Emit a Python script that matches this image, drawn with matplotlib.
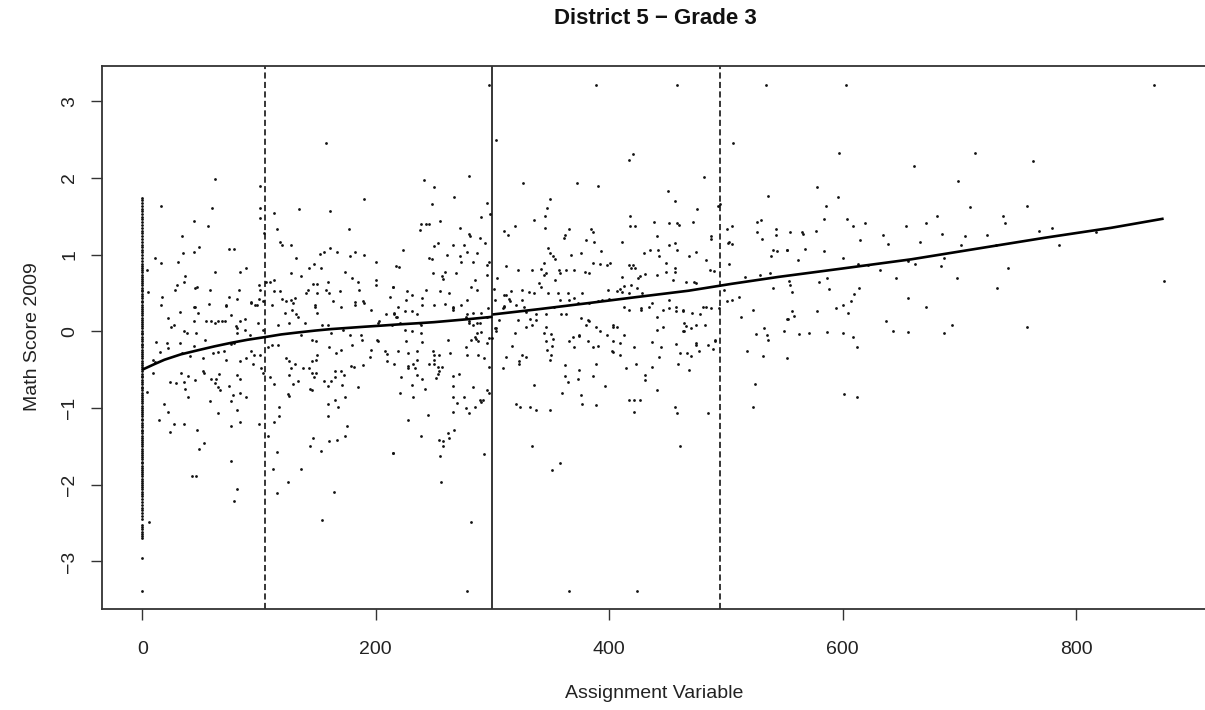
import matplotlib
matplotlib.use("Agg")
import matplotlib.pyplot as plt

plt.rcParams['font.family'] = ['Liberation Sans', 'DejaVu Sans']

# ---------------- data ----------------
# points sitting on the assignment value 0
col0_y = [1.74, 1.71, 1.67, 1.64, 1.60, 1.57, 1.53, 1.49, 1.46, 1.42, 1.39, 1.35,
          1.31, 1.28, 1.24, 1.20, 1.17, 1.13, 1.10, 1.06, 1.03, 0.99, 0.96, 0.92,
          0.88, 0.85, 0.82, 0.80, 0.77, 0.74, 0.71, 0.68, 0.66, 0.63, 0.60, 0.57,
          0.54, 0.52, 0.49, 0.46, 0.43, 0.40, 0.38, 0.35, 0.32, 0.29, 0.26, 0.24,
          0.21, 0.18, 0.15, 0.12, 0.10, 0.07, 0.04, 0.01, -0.02, -0.04, -0.07,
          -0.10, -0.13, -0.16, -0.18, -0.21, -0.24, -0.27, -0.30, -0.32, -0.35,
          -0.38, -0.41, -0.44, -0.46, -0.49, -0.52, -0.55, -0.58, -0.60, -0.63,
          -0.66, -0.69, -0.72, -0.74, -0.77, -0.80, -0.83, -0.86, -0.88, -0.91,
          -0.94, -0.97, -1.00, -1.02, -1.05, -1.08, -1.11, -1.14, -1.16, -1.19,
          -1.22, -1.25, -1.28, -1.30, -1.33, -1.36, -1.39, -1.42, -1.44, -1.47,
          -1.50, -1.53, -1.56, -1.58, -1.61, -1.64, -1.67, -1.70, -1.72, -1.75,
          -1.78, -1.81, -1.84, -1.86, -1.89, -1.92, -1.95, -1.98, -2.00, -2.03,
          -2.06, -2.09, -2.12, -2.15, -2.19, -2.23, -2.26, -2.30, -2.33, -2.37,
          -2.41, -2.44, -2.52, -2.55, -2.58, -2.61, -2.64, -2.67, -2.70, -2.95,
          -3.38]

# upper-left block (x 0-220, y above ~0.3)
xA = [4, 4.5, 11, 16, 16, 17, 28, 30, 31, 34, 35, 36, 37, 44, 44, 45, 47, 45, 49, 56,
      58, 60, 62, 62, 74, 79, 74, 81, 83, 84, 89, 72, 93, 97, 100, 101, 100, 101, 101, 101,
      104, 106, 109, 113, 113, 115, 113, 118, 118, 120, 127, 127, 120, 123, 127, 129, 131, 132, 134, 136,
      140, 142, 143, 146, 147, 148, 150, 150, 152, 153, 156, 157, 157, 159, 160, 161, 161, 163, 167, 169,
      170, 174, 177, 178, 180, 182, 185, 186, 182, 189, 190, 190, 200, 200, 200, 212, 215, 217]
yA = [0.80, 0.51, 0.96, 1.64, 0.89, 0.45, 0.54, 0.61, 0.90, 1.24, 1.02, 0.64, 0.72, 1.03, 1.44, 0.57, 0.58, 0.32, 1.10, 1.38,
      0.54, 1.61, 1.99, 0.77, 1.08, 1.08, 0.45, 0.42, 0.54, 0.78, 0.83, 0.33, 0.38, 0.35, 0.42, 0.54, 0.61, 1.90, 1.61, 1.48,
      1.28, 0.65, 0.65, 0.67, 1.54, 1.33, 0.52, 0.52, 1.16, 1.13, 1.13, 0.76, 0.42, 0.40, 0.41, 0.37, 0.43, 0.96, 1.59, 0.72,
      0.50, 0.54, 0.82, 0.62, 0.88, 0.35, 0.62, 0.50, 1.01, 0.82, 1.03, 2.46, 0.54, 0.64, 0.50, 1.57, 1.09, 0.40, 1.04, 0.52,
      0.32, 0.77, 1.33, 0.98, 0.69, 1.04, 0.64, 0.54, 0.38, 0.39, 1.72, 1.00, 0.90, 0.67, 0.61, 0.45, 0.58, 0.85]

# lower-left block (x 0-105)
xB = [16, 32, 22, 27, 25, 44, 48, 57, 44, 55, 59, 62, 65, 72, 68, 71, 76, 80, 81, 84,
      88, 81, 93, 98, 103, 99, 103, 92, 88, 79, 76, 12, 21, 22, 32, 36, 38, 46, 54, 44,
      15, 9, 11, 9, 34, 41, 52, 61, 65, 70, 72, 84, 89, 93, 96, 95, 101, 102, 103, 33,
      39, 52, 53, 66, 59, 63, 62, 81, 84, 24, 29, 36, 45, 37, 39, 65, 67, 74, 78, 84,
      89, 76, 58, 4, 19, 22, 14, 27, 24, 36, 47, 53, 49, 65, 76, 81, 84, 100, 43, 46,
      76, 81, 79, 6]
yB = [0.34, 0.25, 0.17, 0.08, 0.06, 0.32, 0.24, 0.36, 0.14, 0.14, 0.13, 0.11, 0.13, 0.34, 0.14, 0.14, 0.21, 0.07, 0.04, 0.13,
      0.16, -0.02, 0.37, 0.35, 0.39, 0.11, 0.02, -0.05, 0.02, -0.15, -0.17, -0.14, -0.15, -0.22, -0.15, 0.01, -0.02, -0.02, -0.11, -0.19,
      -0.27, -0.37, -0.40, -0.54, -0.28, -0.32, -0.35, -0.28, -0.27, -0.26, -0.37, -0.39, -0.35, -0.26, -0.31, -0.42, -0.31, -0.48, -0.54, -0.54,
      -0.58, -0.52, -0.54, -0.55, -0.62, -0.62, -0.67, -0.57, -0.62, -0.66, -0.67, -0.66, -0.63, -0.75, -0.86, -0.73, -0.77, -0.71, -0.83, -0.80,
      -0.86, -0.91, -0.91, -0.79, -0.95, -1.05, -1.16, -1.21, -1.31, -1.21, -1.28, -1.46, -1.54, -1.07, -1.23, -1.02, -1.18, -1.21, -1.88, -1.88,
      -1.69, -2.05, -2.21, -2.49]

# middle-left block (x 105-217)
xC = [108, 111, 109, 113, 116, 117, 117, 113, 108, 115, 112, 115, 125, 136, 123, 126, 131, 127, 126, 129,
      133, 125, 126, 138, 143, 145, 149, 147, 144, 145, 145, 149, 150, 156, 159, 162, 165, 165, 170, 173,
      171, 159, 165, 168, 174, 159, 175, 174, 167, 160, 144, 146, 153, 164, 154, 185, 189, 179, 181, 195,
      196, 208, 210, 210, 201, 202, 215, 209, 216, 111, 116, 122, 126, 128, 132, 133, 136, 145, 149, 148,
      150, 154, 159, 160, 162, 166, 170, 172, 178, 180, 187, 188, 182, 190, 196, 202, 203, 139]
yC = [-0.20, -0.18, -0.59, -0.68, -0.18, -0.98, -1.10, -1.18, -1.37, -1.57, -1.79, -2.11, -1.97, -1.79, -0.35, -0.39, -0.42, -0.48, -0.57, -0.68,
      -0.65, -0.82, -0.84, -0.48, -0.48, -0.54, -0.54, -0.60, -0.75, -0.77, -0.39, -0.37, -0.31, -0.65, -0.71, -0.65, -0.60, -0.52, -0.52, -0.57,
      -0.70, -0.95, -0.89, -0.98, -0.86, -1.10, -1.23, -1.37, -1.41, -1.43, -1.50, -1.39, -1.56, -2.10, -2.46, -0.73, -0.44, -0.45, -0.46, -0.34,
      -0.24, -0.25, -0.30, -0.39, -0.11, -0.12, -1.59, 0.22, 0.22, 0.35, 0.08, 0.24, 0.11, 0.28, 0.22, 0.19, -0.05, -0.11, -0.13, 0.32,
      0.24, 0.08, 0.08, -0.20, -0.02, -0.28, -0.24, 0.02, -0.05, -0.18, -0.05, -0.11, 0.35, 0.37, 0.28, 0.11, 0.13, 0.11]

# upper-middle block (x 212-555)
xD = [297, 303, 389, 458, 534, 417, 420, 506, 241, 250, 248, 280, 267, 295, 298, 326, 372, 390, 349, 347,
      345, 345, 336, 319, 310, 313, 348, 352, 450, 456, 481, 475, 493, 495, 536, 418, 418, 422, 438, 451,
      458, 460, 472, 501, 505, 527, 530, 543, 543, 527, 531, 503, 505, 502, 503, 487, 487, 483, 486, 490,
      540, 544, 539, 538, 552, 516, 529, 540, 498, 505, 511, 523, 513, 533, 535, 384, 386, 380, 387, 366,
      362, 361, 393, 411, 367, 376, 386, 392, 398, 401, 417, 420, 430, 435, 442, 443, 456, 458, 451, 441,
      449, 456, 468, 474, 441, 449, 455, 456, 466, 473, 474, 431, 426, 425, 419, 422, 411, 409, 413, 419,
      407, 411, 417, 424, 428, 383, 379, 370, 363, 358, 346, 344, 342, 334, 322, 312, 304, 301, 302, 302,
      306, 310, 312, 314, 310, 309, 316, 320, 325, 325, 331, 329, 336, 340, 342, 344, 349, 354, 354, 357,
      348, 356, 358, 365, 366, 370, 373, 377, 383, 390, 394, 399, 400, 332, 337, 346, 329, 334, 359, 363,
      376, 382, 389, 374, 413, 417, 427, 434, 441, 446, 451, 451, 457, 463, 464, 471, 480, 483, 478, 487,
      494, 470, 403, 413, 446, 501, 215, 217, 219, 223, 220, 227, 231, 226, 231, 235, 238, 239, 243, 246,
      255, 246, 248, 250, 253, 249, 257, 258, 259, 261, 266, 269, 272, 272, 273, 276, 278, 280, 281, 283,
      285, 287, 289, 290, 294, 295, 297, 295, 282, 287, 278, 266, 266, 263, 255, 243, 240, 238, 239, 280,
      287, 290, 296, 285, 287, 214, 277]
yD = [3.21, 2.49, 3.21, 3.21, 3.21, 2.24, 2.31, 2.45, 1.98, 1.88, 1.66, 2.03, 1.75, 1.67, 1.53, 1.93, 1.93, 1.89, 1.73, 1.61,
      1.50, 1.35, 1.45, 1.38, 1.31, 1.25, 1.09, 0.98, 1.83, 1.70, 2.01, 1.59, 1.63, 1.66, 1.77, 1.50, 1.38, 1.38, 1.43, 1.41,
      1.41, 1.39, 1.43, 1.34, 1.38, 1.43, 1.45, 1.33, 1.26, 1.30, 1.21, 1.17, 1.14, 1.15, 0.88, 1.24, 1.21, 0.93, 0.80, 0.79,
      1.06, 1.05, 0.98, 0.76, 1.06, 0.71, 0.74, 0.56, 0.54, 0.41, 0.45, 0.28, 0.19, 0.04, -0.05, 1.33, 1.30, 1.19, 1.17, 1.33,
      1.25, 1.22, 1.05, 1.17, 1.00, 1.02, 0.89, 0.88, 0.87, 0.89, 0.86, 0.86, 1.02, 1.06, 1.06, 0.98, 1.15, 1.06, 1.13, 1.24,
      0.89, 0.83, 0.98, 1.03, 0.74, 0.77, 0.67, 0.77, 0.64, 0.65, 0.63, 0.75, 0.72, 0.69, 0.83, 0.82, 0.71, 0.55, 0.59, 0.61,
      0.52, 0.51, 0.50, 0.56, 0.50, 0.76, 0.78, 0.80, 0.80, 0.76, 0.76, 0.74, 0.81, 0.80, 0.80, 0.85, 0.70, 0.55, 0.41, 0.04,
      0.15, 0.48, 0.48, 0.42, 0.32, 0.30, 0.53, 0.35, 0.54, 0.41, 0.51, 0.25, 0.50, 0.63, 0.58, 0.89, 1.02, 0.94, 0.67, 0.80,
      0.50, 0.50, 0.41, 0.50, 0.41, 0.43, 0.37, 0.50, 0.37, 0.40, 0.41, 0.54, 0.42, 0.16, 0.15, 0.06, 0.06, 0.08, 0.22, 0.22,
      0.17, 0.15, 0.06, -0.06, 0.32, 0.28, 0.30, 0.32, 0.19, 0.28, 0.30, 0.41, 0.32, 0.28, 0.11, 0.24, 0.32, 0.32, 0.22, 0.30,
      0.30, 0.04, 0.06, -0.05, 0.06, 0.39, 0.58, 0.19, 0.32, 1.06, 0.84, 0.53, 0.48, 0.41, 0.26, 0.22, 1.32, 1.40, 1.40, 1.40,
      1.44, 0.96, 0.94, 1.11, 1.15, 0.76, 0.72, 0.68, 0.78, 1.00, 1.12, 0.76, 1.35, 0.98, 0.91, 1.12, 1.04, 1.27, 1.24, 0.90,
      0.67, 1.02, 1.22, 1.49, 1.15, 0.87, 0.90, 0.74, 0.58, 0.54, 0.41, 0.32, 0.28, 0.50, 0.52, 0.54, 0.43, 0.11, 0.08, 0.13,
      0.11, 0.24, 0.30, -0.07, -0.02, 0.08, 0.19]

# lower-middle block (x 212-555)
xE = [216, 218, 225, 240, 250, 259, 266, 273, 278, 280, 283, 289, 295, 221, 225, 231, 239, 226, 219, 228,
      235, 235, 240, 249, 250, 254, 250, 262, 264, 216, 228, 232, 234, 235, 222, 228, 246, 250, 253, 257,
      254, 253, 252, 240, 231, 221, 232, 242, 266, 271, 266, 266, 270, 266, 276, 277, 280, 285, 283, 289,
      290, 292, 295, 297, 297, 288, 293, 277, 278, 282, 286, 288, 290, 283, 295, 297, 228, 239, 245, 254,
      258, 262, 263, 267, 258, 255, 215, 256, 293, 282, 278, 300, 303, 303, 310, 315, 319, 317, 312, 309,
      323, 323, 325, 329, 322, 327, 337, 344, 350, 346, 352, 351, 347, 350, 349, 346, 353, 366, 369, 370,
      374, 380, 383, 382, 386, 390, 392, 398, 403, 407, 403, 409, 403, 409, 421, 427, 437, 441, 437, 444,
      457, 457, 463, 463, 464, 466, 474, 482, 474, 474, 485, 489, 491, 467, 461, 470, 477, 459, 468, 443,
      437, 423, 414, 431, 431, 441, 402, 389, 386, 374, 373, 365, 362, 362, 360, 376, 377, 389, 396, 417,
      421, 426, 421, 456, 458, 485, 320, 324, 332, 337, 349, 336, 334, 358, 351, 366, 424, 461, 491, 526,
      518, 536, 532, 550, 552, 525, 523, 552]
yE = [0.24, 0.19, 0.26, 0.35, 0.35, 0.36, 0.30, 0.35, 0.22, 0.11, 0.24, 0.11, 0.19, 0.11, 0.02, 0.01, -0.02, -0.12, -0.25, -0.28,
      -0.37, -0.25, -0.14, -0.25, -0.31, -0.31, -0.37, -0.11, -0.28, -0.42, -0.45, -0.42, -0.48, -0.57, -0.60, -0.48, -0.42, -0.43, -0.46, -0.46,
      -0.52, -0.55, -0.61, -0.62, -0.70, -0.80, -0.85, -0.75, -0.58, -0.55, -0.71, -0.85, -0.93, -1.05, -0.86, -1.00, -1.07, -0.99, -0.73, -0.89,
      -0.92, -0.89, -0.77, -0.81, -0.46, -0.31, -0.35, -0.21, -0.31, -0.11, -0.10, -0.12, -0.01, 0.08, -0.15, -0.09, -1.16, -1.36, -1.09, -1.41,
      -1.43, -1.33, -1.39, -1.29, -1.49, -1.62, -1.59, -1.97, -1.60, -2.49, -3.38, -0.09, 0.04, 0.00, 0.33, 0.39, -0.02, -0.19, -0.34, -0.48,
      -0.39, -0.42, -0.31, -0.34, 0.15, 0.32, 0.22, -0.02, -0.04, -0.12, -0.10, -0.19, -0.24, -0.31, -0.37, 0.22, 0.32, -0.12, -0.07, -0.20,
      -0.05, 0.08, 0.14, -0.13, -0.20, -0.19, 0.00, -0.05, 0.08, 0.06, -0.13, -0.15, -0.27, -0.31, -0.21, 0.28, 0.37, 0.02, -0.14, -0.21,
      -0.17, 0.26, 0.26, 0.00, 0.01, 0.07, 0.08, 0.08, -0.15, -0.18, -0.18, -0.23, -0.13, -0.28, -0.28, -0.32, -0.26, -0.42, -0.50, -0.34,
      -0.46, -0.42, -0.48, -0.57, -0.63, -0.76, -0.26, -0.42, -0.58, -0.50, -0.62, -0.66, -0.58, -0.44, -0.80, -0.83, -0.95, -0.96, -0.71, -0.89,
      -0.90, -0.90, -1.05, -0.99, -1.07, -1.06, -0.95, -0.98, -0.99, -1.02, -1.02, -0.70, -1.49, -1.72, -1.81, -3.38, -3.38, -1.50, -0.11, -0.04,
      -0.26, -0.11, -0.32, 0.01, -0.35, -0.68, -0.99, 0.16]

# right block (x > 545)
xF = [603, 867, 597, 713, 661, 763, 699, 578, 596, 586, 709, 758, 584, 604, 609, 619, 654, 671, 681, 737,
      739, 555, 565, 566, 577, 635, 685, 705, 724, 768, 779, 817, 615, 639, 666, 701, 731, 785, 552, 568,
      584, 600, 562, 613, 622, 632, 656, 662, 684, 687, 742, 554, 555, 557, 580, 587, 588, 614, 610, 607,
      600, 594, 605, 578, 557, 558, 553, 646, 656, 671, 637, 698, 732, 694, 758, 875, 563, 571, 587, 600,
      609, 643, 656, 687, 612, 601, 612]
yF = [3.21, 3.21, 2.32, 2.32, 2.16, 2.22, 1.96, 1.88, 1.75, 1.64, 1.62, 1.64, 1.46, 1.46, 1.37, 1.41, 1.38, 1.41, 1.50, 1.50,
      1.41, 1.29, 1.29, 1.27, 1.31, 1.25, 1.27, 1.24, 1.26, 1.31, 1.35, 1.29, 1.19, 1.14, 1.16, 1.12, 1.12, 1.12, 1.06, 1.08,
      1.05, 0.96, 0.93, 0.88, 0.86, 0.80, 0.92, 0.88, 0.85, 0.96, 0.83, 0.66, 0.60, 0.51, 0.64, 0.70, 0.55, 0.57, 0.49, 0.39,
      0.35, 0.30, 0.24, 0.26, 0.27, 0.20, 0.16, 0.70, 0.43, 0.32, 0.14, 0.70, 0.56, 0.08, 0.06, 0.66, -0.04, -0.02, -0.01, -0.02,
      -0.08, 0.01, -0.01, -0.02, -0.21, -0.82, -0.85]

# fitted smooth curves on each side of the cutoff
fit_left_x = [0, 10, 19, 33, 48, 62, 76, 90, 105, 119, 133, 148, 162, 176, 190, 205, 219,
              235, 250, 265, 280, 300]
fit_left_y = [-0.50, -0.43, -0.37, -0.30, -0.245, -0.195, -0.15, -0.11, -0.075, -0.04, -0.015,
              0.01, 0.03, 0.045, 0.06, 0.075, 0.09, 0.105, 0.12, 0.14, 0.16, 0.19]
fit_right_x = [300, 340, 383, 425, 468, 505, 545, 600, 659, 720, 773, 830, 875]
fit_right_y = [0.22, 0.29, 0.37, 0.45, 0.53, 0.62, 0.71, 0.82, 0.94, 1.09, 1.22, 1.35, 1.47]

cutoff = 300
band = [105, 495]

title = "District 5 \u2212 Grade 3"
xlabel = "Assignment Variable"
ylabel = "Math Score 2009"
xticks = [0, 200, 400, 600, 800]
yticks = [-3, -2, -1, 0, 1, 2, 3]

# ---------------- figure ----------------
W, H = 1205, 710
fig = plt.figure(figsize=(W / 100, H / 100), dpi=100)
L, R, T, B = 102, 1208, 66, 609
ax = fig.add_axes([L / W, 1 - B / H, (R - L) / W, (B - T) / H])

pt_kw = dict(s=4, c='#111111', marker='o', linewidths=0)
ax.scatter([0] * len(col0_y), col0_y, **pt_kw)
for xs, ys in [(xA, yA), (xB, yB), (xC, yC), (xD, yD), (xE, yE), (xF, yF)]:
    ax.scatter(xs, ys, **pt_kw)

ax.plot(fit_left_x, fit_left_y, color='black', lw=1.9, solid_capstyle='butt',
        solid_joinstyle='round')
ax.plot(fit_right_x, fit_right_y, color='black', lw=1.9, solid_capstyle='butt',
        solid_joinstyle='round')

ax.axvline(cutoff, color='black', lw=1.1)
for b in band:
    ax.axvline(b, color='black', lw=1.1, ls=(0, (4, 2.2)))

ax.set_xlim(-34.5, 913)
ax.set_ylim(-3.62, 3.46)

ax.set_xticks(xticks)
ax.set_yticks(yticks)
ax.set_xticklabels([str(v) for v in xticks])
ax.set_yticklabels([str(v).replace('-', '\u2212') for v in yticks])
for sp in ['left', 'bottom', 'top', 'right']:
    ax.spines[sp].set_linewidth(1.3)
    ax.spines[sp].set_color('#333333')
ax.tick_params(axis='both', direction='out', length=8, width=1.0, color='#333333',
               labelsize=14, labelcolor='#222222')
ax.tick_params(axis='x', pad=15)
ax.tick_params(axis='y', pad=9, labelrotation=90)
for lab in ax.get_yticklabels():
    lab.set_va('center')
    lab.set_ha('right')

fig.text(655 / W, 1 - 19 / H, title, ha='center', va='center', fontsize=16,
         fontweight='bold', color='#111111')
fig.text(654 / W, 1 - 693 / H, xlabel, ha='center', va='center', fontsize=14, color='#222222')
fig.text(33 / W, 1 - 337 / H, ylabel, ha='center', va='center', fontsize=14,
         rotation=90, color='#222222')

fig.savefig("out.png", dpi=100)
